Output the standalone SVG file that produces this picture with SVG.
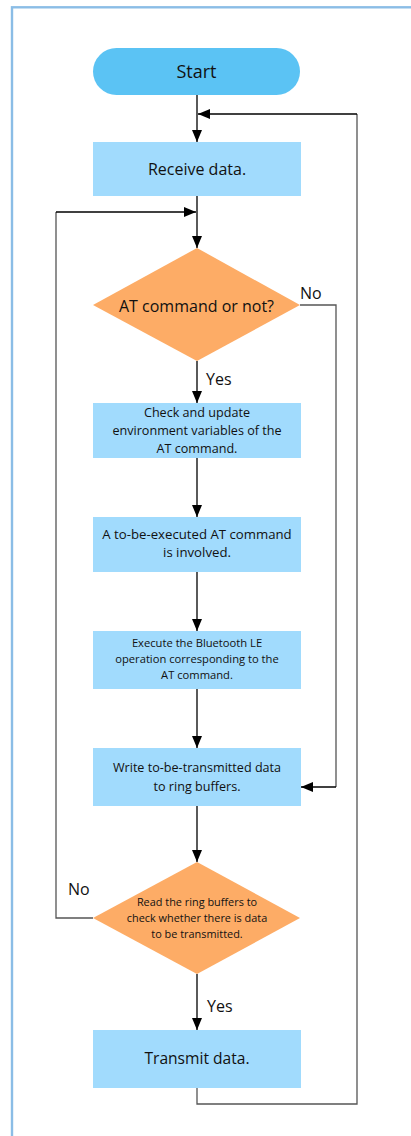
<svg xmlns="http://www.w3.org/2000/svg" width="411" height="1136" viewBox="0 0 411 1136">
<style>
.t{font-family:"Open Sans","Noto Sans","Liberation Sans",sans-serif;fill:#111;text-anchor:middle}
.lbl{font-family:"Open Sans","Noto Sans","Liberation Sans",sans-serif;fill:#111;font-size:16px}
.box{fill:#a1dbfd}
.dia{fill:#fdac66}
.c{fill:none;stroke:#000;stroke-width:1.3}
.g{fill:none;stroke:#555;stroke-width:1.3}
</style>
<defs>
<marker id="ah" markerUnits="userSpaceOnUse" markerWidth="12" markerHeight="10" refX="12" refY="5" orient="auto">
<path d="M0,0 L12,5 L0,10 Z" fill="#000"/>
</marker>
</defs>
<rect x="12" y="7.3" width="420" height="1150" fill="none" stroke="#8bbde6" stroke-width="2.4"/>
<g id="connectors">
<line class="c" x1="197" y1="95" x2="197" y2="142" marker-end="url(#ah)"/>
<polyline class="g" points="197,1088 197,1104 357,1104 357,114"/>
<line class="c" x1="357" y1="114" x2="198" y2="114" marker-end="url(#ah)"/>
<line class="c" x1="197" y1="196" x2="197" y2="248" marker-end="url(#ah)"/>
<polyline class="g" points="93,918 56,918 56,212"/>
<line class="c" x1="56" y1="212" x2="196" y2="212" marker-end="url(#ah)"/>
<polyline class="g" points="300,305 336,305 336,787"/>
<line class="c" x1="336" y1="787" x2="301" y2="787" marker-end="url(#ah)"/>
<line class="c" x1="197" y1="361" x2="197" y2="403" marker-end="url(#ah)"/>
<line class="c" x1="197" y1="458" x2="197" y2="517" marker-end="url(#ah)"/>
<line class="c" x1="197" y1="572" x2="197" y2="631" marker-end="url(#ah)"/>
<line class="c" x1="197" y1="689" x2="197" y2="748" marker-end="url(#ah)"/>
<line class="c" x1="197" y1="806" x2="197" y2="862" marker-end="url(#ah)"/>
<line class="c" x1="197" y1="974" x2="197" y2="1030" marker-end="url(#ah)"/>
<text class="lbl" x="300" y="299">No</text>
<text class="lbl" x="206" y="385">Yes</text>
<text class="lbl" x="68" y="895">No</text>
<text class="lbl" x="207" y="1012">Yes</text>
</g>
<g id="start">
<rect x="93" y="48" width="207" height="47" rx="23.5" fill="#5bc3f4"/>
<text class="t" x="196.5" y="78" font-size="18">Start</text>
</g>
<g id="receive">
<rect class="box" x="93" y="142" width="208" height="54"/>
<text class="t" x="197" y="175" font-size="16">Receive data.</text>
</g>
<g id="decision1">
<polygon class="dia" points="197,248 300,305 197,361 93,305"/>
<text class="t" x="196.5" y="312" font-size="16">AT command or not?</text>
</g>
<g id="check">
<rect class="box" x="93" y="403" width="208" height="55"/>
<text class="t" x="197" font-size="12.6"><tspan x="197" y="416.7">Check and update</tspan><tspan x="197" y="435">environment variables of the</tspan><tspan x="197" y="453.3">AT command.</tspan></text>
</g>
<g id="involved">
<rect class="box" x="93" y="517" width="208" height="55"/>
<text class="t" font-size="13.2"><tspan x="197" y="539">A to-be-executed AT command</tspan><tspan x="197" y="557.3">is involved.</tspan></text>
</g>
<g id="execute">
<rect class="box" x="93" y="631" width="208" height="58"/>
<text class="t" font-size="11.2"><tspan x="197" y="646.7">Execute the Bluetooth LE</tspan><tspan x="197" y="663.3">operation corresponding to the</tspan><tspan x="197" y="679.3">AT command.</tspan></text>
</g>
<g id="write">
<rect class="box" x="93" y="748" width="208" height="58"/>
<text class="t" font-size="12.6"><tspan x="197" y="771.7">Write to-be-transmitted data</tspan><tspan x="197" y="790.7">to ring buffers.</tspan></text>
</g>
<g id="decision2">
<polygon class="dia" points="197,862 300,918 197,974 93,918"/>
<text class="t" font-size="10.9"><tspan x="197" y="905.7">Read the ring buffers to</tspan><tspan x="197" y="922">check whether there is data</tspan><tspan x="197" y="938.3">to be transmitted.</tspan></text>
</g>
<g id="transmit">
<rect class="box" x="93" y="1030" width="208" height="58"/>
<text class="t" x="197" y="1064.3" font-size="15.6">Transmit data.</text>
</g>
</svg>
